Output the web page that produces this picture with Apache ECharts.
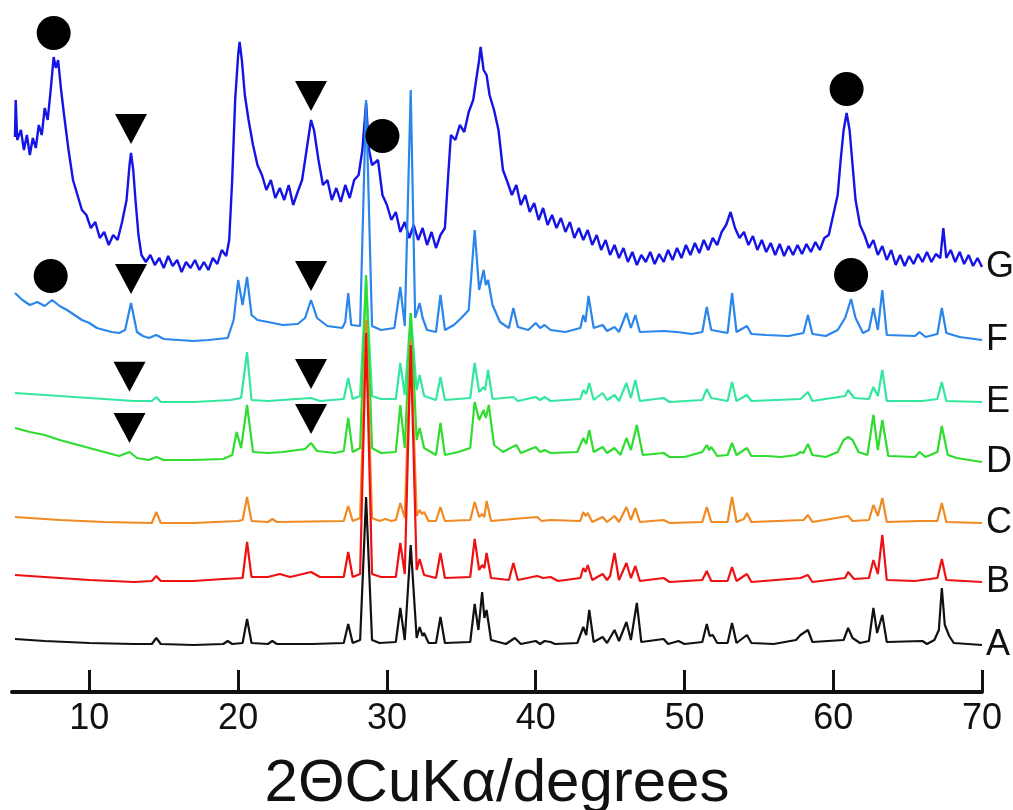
<!DOCTYPE html>
<html>
<head>
<meta charset="utf-8">
<title>XRD patterns A-G</title>
<script src="https://cdn.jsdelivr.net/npm/echarts@6/dist/echarts.min.js"></script>
<style>
  html, body { margin: 0; background: #fff; }
  #chart { width: 1013px; height: 810px; }
</style>
</head>
<body>
<div id="chart"></div>
<script>
// sample names, stacking offsets (vertical shift of each pattern) and colours
const names = ["A", "B", "C", "D", "E", "F", "G"];
const offsets = [47, 110, 169, 230, 290, 352, 427];
const colors = ["#111111", "#ee1111", "#f08a24", "#2fdc2f", "#35e6a0", "#2a86ea", "#1414e6"];
const xTicks = [10, 20, 30, 40, 50, 60, 70];

// intensities: [2theta, counts above the pattern's baseline]
const traceA = [[5,6],[7,4],[10,2],[13,1],[14.2,1],[14.5,7],[14.8,1],[17,0],[19,1],[19.3,4],[19.6,1],[20.3,2],[20.6,26],[20.9,2],[22,1],[22.3,4],[22.6,1],[25,1],[27.1,2],[27.4,21],[27.7,2],[28.2,5],[28.6,148],[29,5],[29.5,2],[30.6,3],[30.9,37],[31.2,5],[31.6,100],[32,7],[32.2,18],[32.4,9],[32.5,12],[32.8,2],[33.3,2],[33.6,28],[33.9,2],[35.6,3],[35.9,41],[36.15,15],[36.4,53],[36.55,27],[36.7,35],[37,5],[38,1],[38.6,7],[39,1],[40,4],[40.3,1],[40.6,4],[41,3],[41.3,1],[42.8,2],[43.2,18],[43.4,10],[43.6,35],[43.9,3],[44.5,8],[44.8,2],[45.3,15],[45.6,4],[46.1,23],[46.4,5],[46.8,42],[47.1,3],[48.6,6],[48.9,1],[49.6,4],[50,1],[51.2,3],[51.5,21],[51.7,9],[51.9,10],[52.2,2],[52.9,2],[53.2,22],[53.5,2],[54.2,10],[54.5,2],[56,1],[57.5,5],[57.8,10],[58.3,15],[58.6,3],[60.7,5],[61,17],[61.3,7],[61.8,2],[62.4,4],[62.7,37],[62.95,12],[63.3,30],[63.6,3],[66,4],[66.3,1],[66.8,5],[67.1,15],[67.3,57],[67.5,20],[67.8,9],[68.1,2],[70,0]];
const traceB = [[5,7],[7,5],[10,2],[13,0],[14.2,1],[14.5,6],[14.8,1],[17,1],[19,3],[20.3,4],[20.6,40],[20.9,5],[22,5],[22.8,8],[23.5,5],[24.9,10],[25.5,5],[27.1,5],[27.4,30],[27.7,5],[28.2,8],[28.6,249],[29,8],[29.6,5],[30.6,5],[30.9,39],[31.2,8],[31.6,237],[32,12],[32.2,23],[32.5,7],[33.3,4],[33.6,29],[33.9,4],[35.6,5],[35.9,43],[36.2,12],[36.4,17],[36.55,14],[36.7,29],[37,4],[38.2,2],[38.5,19],[38.8,2],[40.1,6],[40.5,4],[41,5],[41.5,1],[43,4],[43.2,14],[43.35,10],[43.5,17],[43.8,2],[44.5,8],[44.8,2],[45,6],[45.3,29],[45.6,2],[46.1,19],[46.4,4],[46.7,16],[47,1],[48.6,4],[49,0],[51.2,2],[51.5,11],[51.8,1],[52.9,1],[53.2,15],[53.5,1],[54.2,8],[54.5,0],[57.8,4],[58.3,7],[58.6,0],[60.8,4],[61,10],[61.4,3],[62.4,4],[62.7,22],[63,8],[63.3,47],[63.6,2],[65.5,1],[67,4],[67.3,23],[67.6,2],[70,0]];
const traceC = [[5,6],[8,3],[11,1],[14.2,0],[14.5,11],[14.8,0],[17,0],[20,2],[20.3,3],[20.6,26],[20.9,2],[22,1],[22.3,4],[22.6,1],[27.1,2],[27.4,17],[27.7,2],[28.2,5],[28.6,203],[29,5],[29.5,2],[29.9,4],[30.3,2],[30.6,3],[30.9,20],[31.2,5],[31.6,183],[32,7],[32.2,13],[32.35,9],[32.5,11],[32.8,2],[33.3,2],[33.6,16],[33.9,2],[35.6,3],[35.9,21],[36.2,6],[36.4,9],[36.55,6],[36.7,22],[37,2],[38.5,4],[40.1,6],[40.4,2],[41,3],[43,2],[43.2,11],[43.35,7],[43.5,10],[43.8,1],[44.5,6],[44.8,1],[45.3,7],[45.6,1],[46.1,16],[46.4,3],[46.7,15],[47,1],[48.6,3],[49,0],[51.2,1],[51.5,16],[51.8,1],[52.9,1],[53.2,26],[53.5,1],[54,4],[54.2,10],[54.5,1],[58,3],[58.3,8],[58.6,1],[61,7],[61.3,2],[62.4,3],[62.7,18],[63,7],[63.3,25],[63.6,1],[65.8,2],[67,2],[67.3,20],[67.6,1],[70,0]];
const traceD = [[5,34],[6,30],[7,27],[8,22],[9,18],[10,14],[11,10],[12,6],[12.7,10],[13.2,4],[14,2],[14.5,5],[15,2],[17,2],[19,3],[19.6,7],[19.9,30],[20.2,14],[20.6,57],[21,10],[22,9],[23,10],[24.5,13],[24.9,19],[25.3,11],[26.5,9],[27.1,11],[27.4,44],[27.7,10],[28.2,14],[28.6,187],[29,14],[29.6,9],[30.6,10],[30.9,57],[31.2,14],[31.6,149],[32,22],[32.2,34],[32.5,14],[33.3,7],[33.6,39],[33.9,7],[34.8,10],[35.6,14],[35.9,60],[36.2,42],[36.5,52],[36.65,44],[36.85,57],[37.2,17],[37.8,10],[38.7,17],[39,9],[40,15],[40.3,10],[40.6,12],[41,9],[42.8,10],[43.2,24],[43.4,18],[43.6,32],[43.9,10],[44.5,15],[44.8,9],[45.3,14],[45.7,7],[46.1,24],[46.4,12],[46.8,37],[47.2,7],[48.6,9],[49,5],[50,5],[51.2,10],[51.5,17],[51.65,12],[51.8,15],[52.2,6],[52.9,7],[53.2,19],[53.5,7],[54.2,14],[54.5,6],[55.5,6],[56.5,5],[57.5,7],[57.8,10],[58,9],[58.3,18],[58.6,7],[59.5,5],[60.3,10],[60.7,22],[61,25],[61.3,22],[61.7,10],[62.3,7],[62.7,47],[63,12],[63.3,42],[63.7,6],[65.5,5],[65.8,10],[66.2,5],[67,10],[67.3,36],[67.7,7],[68.3,4],[70,0]];
const traceE = [[5,9],[8,6],[10,4],[13,1],[14.2,1],[14.5,5],[14.8,0],[17,0],[19.5,2],[20.2,4],[20.6,50],[20.9,2],[22,1],[24.9,4],[25.5,1],[27.1,3],[27.4,24],[27.7,3],[28.2,6],[28.6,122],[29,6],[29.6,3],[30.6,3],[30.9,39],[31.2,7],[31.6,89],[32,12],[32.2,27],[32.5,6],[33.3,2],[33.6,25],[33.9,2],[35.6,4],[35.9,39],[36.2,10],[36.5,15],[36.6,12],[36.8,32],[37.1,3],[38.5,5],[38.8,1],[40,5],[40.3,2],[40.6,5],[41,1],[43,3],[43.2,12],[43.4,8],[43.6,19],[43.9,2],[44.5,9],[44.8,2],[45.3,7],[45.6,1],[46.1,19],[46.4,4],[46.7,22],[47,1],[48.6,4],[49,0],[51.2,2],[51.5,13],[51.8,4],[52.9,1],[53.2,20],[53.5,1],[54.2,7],[54.5,1],[57.8,3],[58.3,10],[58.6,1],[60.8,6],[61,12],[61.4,4],[62.4,3],[62.7,15],[63,6],[63.3,32],[63.6,1],[66,1],[67,3],[67.3,20],[67.6,1],[70,0]];
const traceF = [[5,47],[5.5,40],[6,35],[6.5,38],[7,34],[7.5,40],[8,34],[8.5,30],[9,25],[9.5,20],[10,17],[10.5,12],[11,10],[11.5,8],[12,7],[12.4,10],[12.8,37],[13.2,8],[13.6,4],[14,2],[14.5,5],[15,1],[16,0],[17,-1],[18,0],[19.3,2],[19.7,20],[20,60],[20.3,35],[20.6,63],[20.9,25],[21.3,20],[22,18],[23,15],[24,16],[24.5,22],[24.9,40],[25.3,22],[26,14],[27,12],[27.2,18],[27.4,47],[27.6,15],[28.2,14],[28.6,240],[29,14],[29.6,10],[30.5,12],[30.9,53],[31.2,14],[31.6,250],[31.9,22],[32.2,37],[32.4,22],[32.7,10],[33.3,8],[33.6,45],[33.9,10],[34.5,15],[35,22],[35.5,30],[35.9,110],[36.2,50],[36.5,70],[36.65,55],[36.8,60],[37.1,35],[37.6,18],[38.2,12],[38.5,32],[38.8,13],[39.5,10],[40,17],[40.3,12],[40.6,15],[41,10],[42,8],[43,12],[43.2,25],[43.35,18],[43.55,44],[43.9,12],[44.5,15],[44.8,9],[45.3,13],[45.6,8],[46.1,27],[46.4,12],[46.7,25],[47,8],[48.6,9],[49.5,8],[50.5,6],[51.2,8],[51.5,33],[51.8,10],[52.9,7],[53.2,47],[53.5,8],[54.2,14],[54.5,6],[55.5,5],[57,4],[58,7],[58.3,25],[58.6,6],[59.5,4],[60.3,10],[60.8,22],[61.2,41],[61.5,22],[62,7],[62.4,10],[62.7,32],[63,10],[63.3,50],[63.6,5],[65.5,4],[65.8,8],[66.2,3],[67,6],[67.3,32],[67.6,7],[68.5,3],[70,0]];
const traceG = [[5,128],[5.05,165],[5.15,125],[5.4,135],[5.6,115],[5.8,130],[6,110],[6.2,127],[6.4,117],[6.6,140],[6.8,130],[7,157],[7.2,145],[7.4,175],[7.6,208],[7.75,197],[7.9,205],[8.1,175],[8.3,150],[8.6,115],[8.9,85],[9.2,70],[9.5,55],[9.8,50],[10.1,37],[10.4,43],[10.7,27],[11,33],[11.3,20],[11.6,30],[11.9,25],[12.2,43],[12.5,65],[12.7,100],[12.8,112],[12.95,95],[13.1,65],[13.3,30],[13.5,10],[13.8,3],[14.1,10],[14.4,0],[14.7,7],[15,-3],[15.3,9],[15.6,-1],[15.9,5],[16.2,-7],[16.5,3],[16.8,-3],[17.1,5],[17.4,-5],[17.7,3],[18,-5],[18.3,7],[18.6,1],[18.9,15],[19.2,9],[19.4,25],[19.6,85],[19.8,165],[20,210],[20.1,223],[20.25,205],[20.45,170],[20.7,145],[21,120],[21.3,100],[21.6,90],[21.9,75],[22.2,85],[22.5,67],[22.8,77],[23.1,65],[23.4,80],[23.7,60],[24,73],[24.3,85],[24.6,115],[24.9,145],[25.1,135],[25.4,105],[25.7,80],[26,85],[26.3,65],[26.6,77],[26.9,63],[27.2,80],[27.5,67],[27.8,85],[28.1,90],[28.35,115],[28.6,162],[28.8,115],[29,100],[29.4,105],[29.7,70],[30,60],[30.3,45],[30.6,53],[30.9,33],[31.2,43],[31.5,27],[31.8,40],[32.1,25],[32.4,37],[32.7,20],[33,33],[33.3,17],[33.6,30],[33.9,37],[34.1,85],[34.3,130],[34.6,125],[34.9,140],[35.2,133],[35.5,153],[35.8,165],[36,185],[36.2,205],[36.3,218],[36.5,195],[36.7,190],[36.9,170],[37.2,155],[37.5,135],[37.8,95],[38.1,83],[38.4,70],[38.7,80],[39,60],[39.3,70],[39.6,53],[39.9,62],[40.2,45],[40.5,57],[40.8,40],[41.1,50],[41.4,37],[41.7,47],[42,33],[42.3,43],[42.6,27],[42.9,37],[43.2,25],[43.5,35],[43.8,20],[44.1,30],[44.4,15],[44.7,25],[45,10],[45.3,20],[45.6,7],[45.9,17],[46.2,3],[46.5,13],[46.8,0],[47.1,10],[47.4,3],[47.7,13],[48,1],[48.3,11],[48.6,3],[48.9,15],[49.2,5],[49.5,17],[49.8,7],[50.1,20],[50.4,10],[50.7,22],[51,12],[51.3,25],[51.6,15],[51.9,27],[52.2,20],[52.5,33],[52.8,40],[53.1,53],[53.4,37],[53.7,27],[54,33],[54.3,20],[54.6,29],[54.9,15],[55.2,25],[55.5,13],[55.8,22],[56.1,10],[56.4,21],[56.7,9],[57,19],[57.3,10],[57.6,20],[57.9,11],[58.2,21],[58.5,13],[58.8,23],[59.1,15],[59.4,27],[59.7,30],[60,50],[60.3,70],[60.5,105],[60.7,135],[60.9,152],[61.1,135],[61.3,100],[61.5,65],[61.8,40],[62.1,30],[62.4,17],[62.7,25],[63,10],[63.3,19],[63.6,5],[63.9,15],[64.2,0],[64.5,10],[64.8,-1],[65.1,9],[65.4,1],[65.7,11],[66,3],[66.3,13],[66.6,3],[66.9,11],[67.2,7],[67.4,37],[67.6,7],[67.9,15],[68.2,3],[68.5,13],[68.8,1],[69.1,10],[69.4,-1],[69.7,7],[70,-2]];
const traces = [traceA, traceB, traceC, traceD, traceE, traceF, traceG];

// peak markers: circle = one phase, triangle = the other
const markers = [
  { trace: "G", at: 7.6, shape: "circle" },
  { trace: "G", at: 12.8, shape: "triangle" },
  { trace: "G", at: 24.9, shape: "triangle" },
  { trace: "G", at: 29.7, shape: "circle" },
  { trace: "G", at: 60.9, shape: "circle" },
  { trace: "F", at: 7.4, shape: "circle" },
  { trace: "F", at: 12.8, shape: "triangle" },
  { trace: "F", at: 24.9, shape: "triangle" },
  { trace: "F", at: 61.2, shape: "circle" },
  { trace: "E", at: 12.7, shape: "triangle" },
  { trace: "E", at: 24.9, shape: "triangle" },
  { trace: "D", at: 12.7, shape: "triangle" },
  { trace: "D", at: 24.9, shape: "triangle" },
];

const font = "'Liberation Sans', Arial, sans-serif";
const markerGap = 24;
// draw order, later on top
const zOrder = { A: 6, B: 7, C: 5, D: 4, E: 3, F: 2, G: 1 };

function valueAt(data, x) {
  for (let i = 1; i < data.length; i++) {
    if (data[i][0] >= x) {
      const [x0, y0] = data[i - 1];
      const [x1, y1] = data[i];
      return y0 + ((y1 - y0) * (x - x0)) / (x1 - x0);
    }
  }
  return data[data.length - 1][1];
}

function peakAt(data, x) {
  let best = valueAt(data, x);
  data.forEach((p) => {
    if (Math.abs(p[0] - x) <= 0.35 && p[1] > best) best = p[1];
  });
  return best;
}

const chart = echarts.init(document.getElementById("chart"));

const lineSeries = names.map((name, i) => ({
  name: name,
  type: "line",
  data: traces[i].map((p) => [p[0], p[1] + offsets[i]]),
  showSymbol: false,
  symbol: "none",
  z: zOrder[name],
  lineStyle: { color: colors[i], width: name === "G" ? 2.4 : 2.2 },
  itemStyle: { color: colors[i] },
  endLabel: {
    show: true,
    formatter: "{a}",
    distance: 4,
    color: "#111",
    fontSize: 36,
    fontFamily: font,
  },
  silent: true,
}));

const markerSeries = {
  type: "scatter",
  z: 20,
  silent: true,
  itemStyle: { color: "#000", opacity: 1 },
  data: markers.map((m) => {
    const i = names.indexOf(m.trace);
    const y = offsets[i] + peakAt(traces[i], m.at) + markerGap;
    return m.shape === "circle"
      ? { value: [m.at, y], symbol: "circle", symbolSize: 34 }
      : { value: [m.at, y], symbol: "triangle", symbolSize: [32, 30], symbolRotate: 180 };
  }),
};

chart.setOption({
  animation: false,
  backgroundColor: "#fff",
  grid: { left: 12, right: 31, top: 0, bottom: 118, containLabel: false, outerBoundsMode: "none" },
  xAxis: {
    type: "value",
    min: 4.8,
    max: 70,
    name: "2ΘCuKα/degrees",
    nameLocation: "middle",
    nameGap: 62,
    nameTextStyle: { color: "#111", fontSize: 60, fontFamily: font, verticalAlign: "top" },
    axisLine: { show: true, onZero: false, lineStyle: { color: "#111", width: 4 } },
    axisTick: {
      show: true,
      inside: true,
      length: 22,
      customValues: xTicks,
      lineStyle: { color: "#111", width: 3 },
    },
    axisLabel: {
      customValues: xTicks,
      margin: 9,
      color: "#111",
      fontSize: 36,
      fontFamily: font,
    },
    splitLine: { show: false },
  },
  yAxis: { type: "value", min: 0, max: 692, show: false },
  series: [...lineSeries, markerSeries],
});
</script>
</body>
</html>
